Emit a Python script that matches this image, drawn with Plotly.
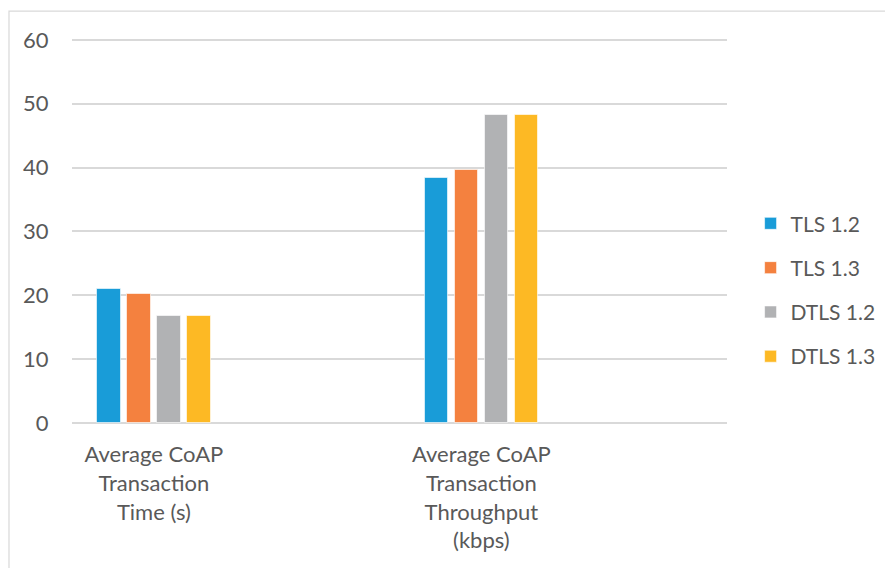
import plotly.graph_objects as go

# Categories on a four-slot axis; slots 1 and 3 are left empty
categories = ["Average CoAP<br>Transaction<br>Time (s)", "Average CoAP<br>Transaction<br>Throughput<br>(kbps)"]
cat_positions = [0, 2]
series_names = ["TLS 1.2", "TLS 1.3", "DTLS 1.2", "DTLS 1.3"]
series_values = [
    [21.0, 38.4],
    [20.2, 39.7],
    [16.7, 48.3],
    [16.7, 48.3],
]
colors = ["#199CD8", "#F4813F", "#B1B2B4", "#FDB924"]
y_ticks = [0, 10, 20, 30, 40, 50, 60]

FONT = "Lato"
TEXT_COLOR = "#595959"

bar_w = 0.1435
step = 0.183
start = -(3 * step + bar_w) / 2

fig = go.Figure()
for i, (name, vals, col) in enumerate(zip(series_names, series_values, colors)):
    fig.add_trace(go.Bar(
        x=cat_positions, y=vals, name=name,
        width=bar_w, offset=start + i * step,
        marker=dict(color=col, line=dict(color="rgba(255,255,255,0.6)", width=1)),
        legendgroup=name,
    ))

fig.update_layout(
    width=885, height=568,
    margin=dict(l=72, r=158, t=38, b=145, autoexpand=False),
    paper_bgcolor="white", plot_bgcolor="white",
    font=dict(family=FONT, size=22, color=TEXT_COLOR),
    showlegend=True,
    legend=dict(x=1.036, y=0.345, xanchor="left", yanchor="middle",
                font=dict(family=FONT, size=21, color=TEXT_COLOR),
                tracegroupgap=14, itemwidth=30, bgcolor="rgba(0,0,0,0)"),
    bargap=0,
    shapes=[dict(type="rect", xref="paper", yref="paper",
                 x0=-0.0962, x1=1.5, y0=-0.6, y1=1.07,
                 line=dict(color="#D9D9D9", width=1.2), layer="below")],
)

fig.update_xaxes(
    range=[-0.5, 3.5], tickmode="array", tickvals=cat_positions, ticktext=categories,
    showgrid=False, zeroline=False, showline=False,
    ticks="outside", ticklen=12, tickcolor="rgba(0,0,0,0)",
    tickfont=dict(family=FONT, size=22, color=TEXT_COLOR), tickangle=0,
)
fig.update_yaxes(
    range=[0, 60.3], tickmode="array", tickvals=y_ticks,
    showgrid=True, gridcolor="#D9D9D9", gridwidth=2,
    zeroline=True, zerolinecolor="#D9D9D9", zerolinewidth=2,
    showline=False, ticks="outside", ticklen=18, tickcolor="rgba(0,0,0,0)",
    tickfont=dict(family=FONT, size=22, color=TEXT_COLOR),
)

fig.write_html("out.html")
